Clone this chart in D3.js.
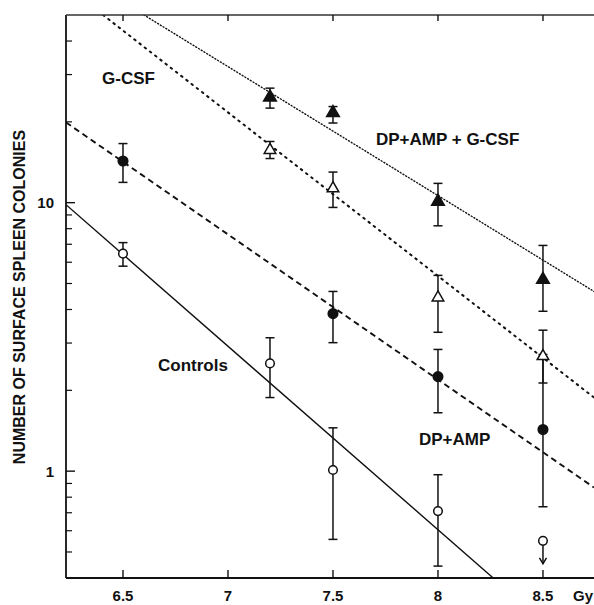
<!DOCTYPE html>
<html><head><meta charset="utf-8">
<script src="https://cdn.jsdelivr.net/npm/d3@7"></script>
<style>
html,body{margin:0;padding:0;background:#fff;}
text{font-family:"Liberation Sans",Arial,Helvetica,sans-serif;font-weight:bold;fill:#111;}
</style></head>
<body><svg id="c" width="594" height="605"></svg>
<script>
// ---- data ----
const xTicks = [6.5, 7, 7.5, 8, 8.5];
const xTickLabels = ["6.5", "7", "7.5", "8", "8.5"];
const yMajor = [1, 10];
const yMajorLabels = ["1", "10"];
const yMinor = [0.5, 0.6, 0.7, 0.8, 0.9, 2, 3, 4, 5, 6, 7, 8, 9, 20, 30, 40];

// Controls (open circles)
const ctrlDose = [6.5, 7.2, 7.5, 8.0];
const ctrlVal  = [6.46, 2.52, 1.01, 0.71];
const ctrlLo   = [5.8, 1.88, 0.557, 0.443];
const ctrlHi   = [7.1, 3.14, 1.45, 0.97];
const ctrlLimitDose = [8.5];
const ctrlLimitVal  = [0.55];

// DP+AMP (filled circles)
const dpDose = [6.5, 7.5, 8.0, 8.5];
const dpVal  = [14.3, 3.86, 2.25, 1.43];
const dpLo   = [11.9, 3.01, 1.65, 0.737];
const dpHi   = [16.6, 4.67, 2.84, 2.72];

// G-CSF (open triangles)
const gDose = [7.2, 7.5, 8.0, 8.5];
const gVal  = [15.7, 11.3, 4.43, 2.68];
const gLo   = [14.6, 9.6, 3.29, 2.13];
const gHi   = [16.9, 13.0, 5.36, 3.35];

// DP+AMP + G-CSF (filled triangles)
const cDose = [7.2, 7.5, 8.0, 8.5];
const cVal  = [24.7, 21.6, 10.1, 5.17];
const cLo   = [22.5, 19.8, 8.2, 3.94];
const cHi   = [26.7, 22.8, 11.8, 6.93];

// fitted regression lines (dose, colonies)
const ctrlFitDose = [6.2286, 8.263];
const ctrlFitVal  = [9.83, 0.4];
const dpFitDose = [6.2286, 8.743];
const dpFitVal  = [19.9, 0.869];
const gFitDose = [6.405, 8.743];
const gFitVal  = [50, 1.88];
const cFitDose = [6.6, 8.743];
const cFitVal  = [50, 4.67];

// ---- layout ----
const L = 66, R = 594, T = 15, B = 578;
const svg = d3.select("#c");
const x = d3.scaleLinear().domain([6.2286, 8.743]).range([L, R]);
const y = d3.scaleLog().domain([0.4, 50]).range([B, T]);

svg.append("defs").append("clipPath").attr("id", "clip")
  .append("rect").attr("x", L).attr("y", T).attr("width", R - L).attr("height", B - T);

const plot = svg.append("g").attr("clip-path", "url(#clip)");
const line = d3.line().x(d => x(d[0])).y(d => y(d[1]));
function fit(ds, vs, dash, w) {
  plot.append("path").datum(d3.zip(ds, vs)).attr("d", line)
    .attr("fill", "none").attr("stroke", "#111").attr("stroke-width", w)
    .attr("stroke-dasharray", dash).attr("stroke-linecap", dash === "1,2.2" || dash === "1.6,5" ? "round" : "butt");
}
fit(ctrlFitDose, ctrlFitVal, null, 1.4);
fit(dpFitDose, dpFitVal, "6,4", 1.9);
fit(gFitDose, gFitVal, "1.6,5", 2.0);
fit(cFitDose, cFitVal, "1,2.2", 1.4);

// axes
const ax = svg.append("g").attr("stroke", "#111").attr("fill", "none");
ax.append("line").attr("x1", L).attr("x2", L).attr("y1", T).attr("y2", B).attr("stroke-width", 1.8);
ax.append("line").attr("x1", L).attr("x2", R).attr("y1", B).attr("y2", B).attr("stroke-width", 2);
ax.append("line").attr("x1", L).attr("x2", R).attr("y1", T).attr("y2", T).attr("stroke-width", 1.5).attr("stroke", "#333");
xTicks.forEach(t => {
  ax.append("line").attr("x1", x(t)).attr("x2", x(t)).attr("y1", B).attr("y2", B - 8).attr("stroke-width", 1.4);
  ax.append("line").attr("x1", x(t)).attr("x2", x(t)).attr("y1", T).attr("y2", T + 6).attr("stroke-width", 1.4);
});
yMajor.forEach(t => ax.append("line").attr("x1", L).attr("x2", L + 9).attr("y1", y(t)).attr("y2", y(t)).attr("stroke-width", 1.4));
yMinor.forEach(t => ax.append("line").attr("x1", L).attr("x2", L + 6).attr("y1", y(t)).attr("y2", y(t)).attr("stroke-width", 1.2));

svg.selectAll(".xl").data(xTicks).enter().append("text")
  .attr("x", d => x(d)).attr("y", 601).attr("text-anchor", "middle")
  .attr("font-size", 15).text((d, i) => xTickLabels[i]);
svg.append("text").attr("x", 573).attr("y", 601).attr("font-size", 15).text("Gy");
svg.selectAll(".yl").data(yMajor).enter().append("text")
  .attr("x", 54).attr("y", d => y(d) + 5.5).attr("text-anchor", "end")
  .attr("font-size", 15).text((d, i) => yMajorLabels[i]);
svg.append("text").attr("transform", "translate(25,297) rotate(-90)")
  .attr("text-anchor", "middle").attr("font-size", 16).text("NUMBER OF SURFACE SPLEEN COLONIES");

// series labels
const lab = (t, xx, yy) => svg.append("text").attr("x", xx).attr("y", yy).attr("font-size", 17).text(t);
lab("G-CSF", 102, 84);
lab("DP+AMP + G-CSF", 376, 145);
lab("Controls", 158, 371);
lab("DP+AMP", 419, 445);

// error bars
const eb = svg.append("g").attr("stroke", "#111").attr("stroke-width", 1.5);
function errbars(ds, lo, hi) {
  ds.forEach((d, i) => {
    const cx = x(d);
    eb.append("line").attr("x1", cx).attr("x2", cx).attr("y1", y(lo[i])).attr("y2", y(hi[i]));
    eb.append("line").attr("x1", cx - 4.5).attr("x2", cx + 4.5).attr("y1", y(lo[i])).attr("y2", y(lo[i]));
    eb.append("line").attr("x1", cx - 4.5).attr("x2", cx + 4.5).attr("y1", y(hi[i])).attr("y2", y(hi[i]));
  });
}
errbars(ctrlDose, ctrlLo, ctrlHi);
errbars(dpDose, dpLo, dpHi);
errbars(gDose, gLo, gHi);
errbars(cDose, cLo, cHi);

// upper-limit arrow for controls at 8.5
ctrlLimitDose.forEach((d, i) => {
  const cx = x(d), cy = y(ctrlLimitVal[i]);
  eb.append("line").attr("x1", cx).attr("x2", cx).attr("y1", cy + 4).attr("y2", cy + 23);
  eb.append("path").attr("d", `M${cx - 3.5},${cy + 17} L${cx},${cy + 23} L${cx + 3.5},${cy + 17}`).attr("fill", "none");
});

// markers
const mk = svg.append("g");
function circles(ds, vs, filled) {
  ds.forEach((d, i) => mk.append("circle").attr("cx", x(d)).attr("cy", y(vs[i])).attr("r", filled ? 4.8 : 4.3)
    .attr("fill", filled ? "#111" : "#fff").attr("stroke", "#111").attr("stroke-width", 1.5));
}
function tris(ds, vs, filled) {
  const sym = d3.symbol().type(d3.symbolTriangle).size(filled ? 70 : 58);
  ds.forEach((d, i) => mk.append("path").attr("d", sym())
    .attr("transform", `translate(${x(d)},${y(vs[i])})`)
    .attr("fill", filled ? "#111" : "#fff").attr("stroke", "#111").attr("stroke-width", 1.5));
}
circles(ctrlDose, ctrlVal, false);
circles(ctrlLimitDose, ctrlLimitVal, false);
circles(dpDose, dpVal, true);
tris(gDose, gVal, false);
tris(cDose, cVal, true);
</script></body></html>
